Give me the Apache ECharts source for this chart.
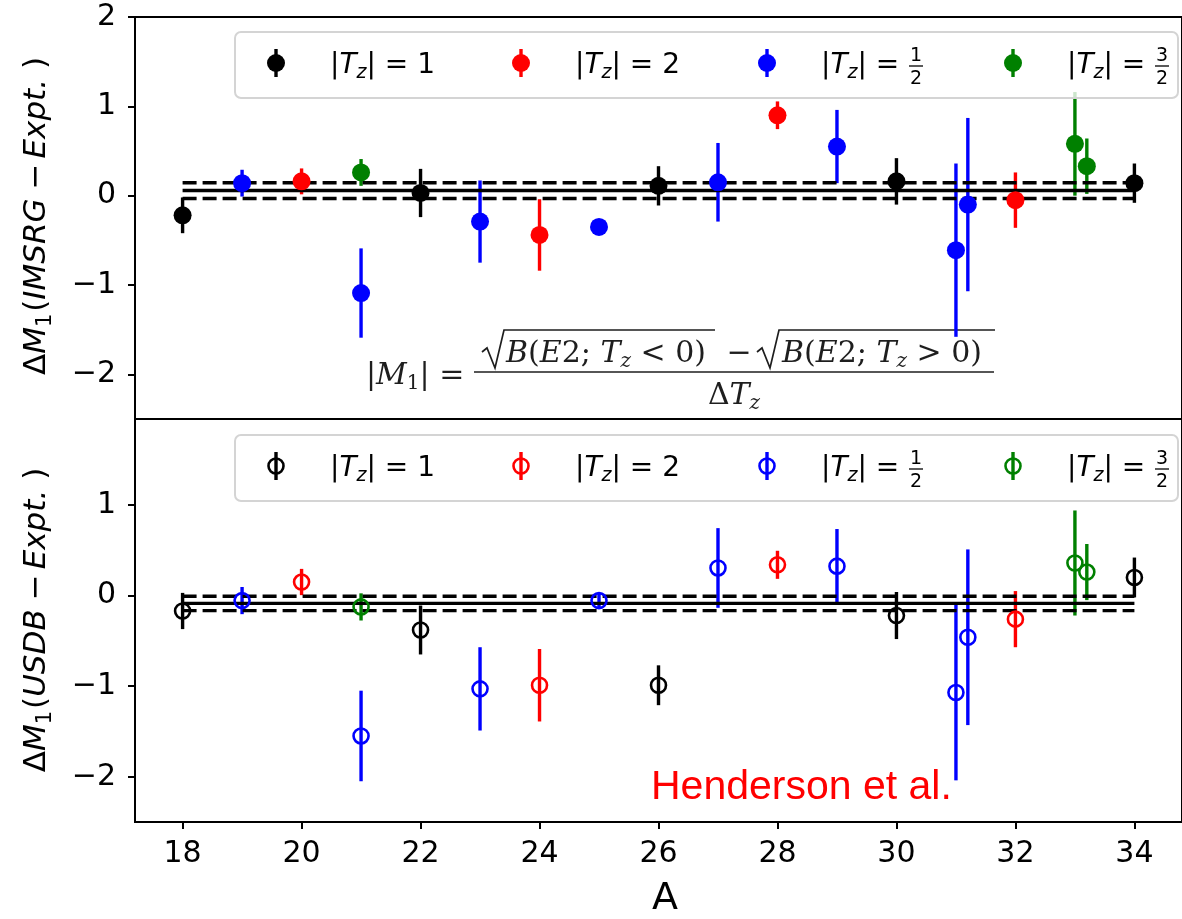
<!DOCTYPE html>
<html>
<head>
<meta charset="utf-8">
<title>ΔM1 residuals</title>
<script src="https://cdn.jsdelivr.net/npm/echarts@6.0.0/dist/echarts.min.js"></script>
<style>
html,body{margin:0;padding:0;background:#fff;}
#chart{width:1182px;height:919px;}
</style>
</head>
<body>
<div id="chart"></div>
<script>
// Mass numbers of the mirror pairs, grouped by |Tz|
const aTz1  = [18, 22, 26, 30, 34];
const aTz2  = [20, 24, 28, 32];
const aTzH  = [19, 21, 23, 25, 27, 29, 31, 31.2];
const aTz3H = [21, 33, 33.2];

// Experimental uncertainties (same for both panels)
const errTz1  = [0.20, 0.27, 0.22, 0.26, 0.22];
const errTz2  = [0.145, 0.40, 0.155, 0.31];
const errTzH  = [0.15, 0.50, 0.46, 0.08, 0.44, 0.41, 0.97, 0.97];
const errTz3H = [0.15, 0.58, 0.31];

// IMSRG − Expt.
const imsrgTz1  = [-0.22, 0.03, 0.11, 0.16, 0.14];
const imsrgTz2  = [0.16, -0.44, 0.90, -0.05];
const imsrgTzH  = [0.14, -1.09, -0.29, -0.35, 0.15, 0.55, -0.61, -0.10];
const imsrgTz3H = [0.26, 0.58, 0.33];

// USDB − Expt.
const usdbTz1  = [-0.17, -0.38, -0.99, -0.22, 0.20];
const usdbTz2  = [0.15, -0.99, 0.34, -0.26];
const usdbTzH  = [-0.055, -1.55, -1.03, -0.055, 0.305, 0.325, -1.07, -0.46];
const usdbTz3H = [-0.125, 0.36, 0.26];

// Mean offset and its uncertainty band
const imsrgMean = 0.057, imsrgBand = [-0.031, 0.145];
const usdbMean = -0.086, usdbBand = [-0.166, -0.007];
const meanRange = [18, 34];

const xTicks = [18, 20, 22, 24, 26, 28, 30, 32, 34];
const yTicksTop = [-2, -1, 0, 1, 2];
const yTicksBottom = [-2, -1, 0, 1];

const groupColors = ['#000000', '#ff0000', '#0000ff', '#008000'];
const legendValues = ['1', '2', '1/2', '3/2'];

const groupsA   = [aTz1, aTz2, aTzH, aTz3H];
const groupsErr = [errTz1, errTz2, errTzH, errTz3H];
const panels = [
  { vals: [imsrgTz1, imsrgTz2, imsrgTzH, imsrgTz3H], mean: imsrgMean, band: imsrgBand, hollow: false },
  { vals: [usdbTz1, usdbTz2, usdbTzH, usdbTz3H], mean: usdbMean, band: usdbBand, hollow: true }
];

const minus = v => (v < 0 ? '\u2212' + Math.abs(v) : String(v));

const series = [];
panels.forEach((p, pi) => {
  // mean line and band
  const lines = [[p.mean, 'solid'], [p.band[0], [14, 6]], [p.band[1], [14, 6]]];
  lines.forEach(([v, t]) => {
    series.push({
      type: 'line', xAxisIndex: pi, yAxisIndex: pi, z: 3,
      data: [[meanRange[0], v], [meanRange[1], v]],
      showSymbol: false, symbol: 'none', silent: true,
      lineStyle: { color: '#000', width: 3.4, type: t, cap: 'butt', opacity: 1 }
    });
  });
  groupsA.forEach((xs, gi) => {
    const data = xs.map((a, k) => [a, p.vals[gi][k], groupsErr[gi][k]]);
    const c = groupColors[gi];
    // error bars
    series.push({
      type: 'custom', xAxisIndex: pi, yAxisIndex: pi, z: 2, silent: true,
      data: data,
      encode: { x: 0, y: 1 },
      renderItem: (params, api) => {
        const x = api.value(0), y = api.value(1), e = api.value(2);
        const p1 = api.coord([x, y + e]);
        const p2 = api.coord([x, y - e]);
        return {
          type: 'line',
          shape: { x1: p1[0], y1: p1[1], x2: p2[0], y2: p2[1] },
          style: { stroke: c, lineWidth: 3.4 }
        };
      }
    });
    // markers
    series.push({
      type: 'scatter', xAxisIndex: pi, yAxisIndex: pi, z: 4, silent: true,
      data: data.map(d => [d[0], d[1]]),
      symbol: 'circle',
      symbolSize: p.hollow ? 15 : 18,
      itemStyle: p.hollow
        ? { color: 'rgba(0,0,0,0)', borderColor: c, borderWidth: 2.6, opacity: 1 }
        : { color: c, opacity: 1 }
    });
  });
});

// ---------- graphic overlays: legends, labels, formula ----------
const graphic = [];
const sansRich = {
  n: { fontFamily: 'DejaVu Sans', fontSize: 28, verticalAlign: 'middle' },
  i: { fontFamily: 'DejaVu Sans', fontStyle: 'italic', fontSize: 28, verticalAlign: 'middle' },
  s: { fontFamily: 'DejaVu Sans', fontStyle: 'italic', fontSize: 19, verticalAlign: 'top', padding: [15, 0, 0, 0] }
};
const labelRich = {
  n: { fontFamily: 'DejaVu Sans', fontSize: 31, verticalAlign: 'middle' },
  i: { fontFamily: 'DejaVu Sans', fontStyle: 'italic', fontSize: 31, verticalAlign: 'middle' },
  m: { fontFamily: 'DejaVu Sans', fontSize: 31, verticalAlign: 'middle', padding: [0, 5, 0, 9] },
  s1: { fontFamily: 'DejaVu Sans', fontSize: 21, verticalAlign: 'top', padding: [17, 2, 0, 0] }
};

function addLegend(boxY, cy, hollow) {
  graphic.push({
    type: 'rect', z: 100, silent: true,
    shape: { x: 235, y: boxY, width: 943, height: 66, r: 6 },
    style: { fill: 'rgba(255,255,255,0.8)', stroke: '#d4d4d4', lineWidth: 2 }
  });
  const mx = [276, 521, 767, 1013];
  legendValues.forEach((val, k) => {
    const c = groupColors[k];
    graphic.push({
      type: 'line', z: 101, silent: true,
      shape: { x1: mx[k], y1: cy - 14, x2: mx[k], y2: cy + 14 },
      style: { stroke: c, lineWidth: 3.4 }
    });
    graphic.push({
      type: 'circle', z: 102, silent: true,
      shape: { cx: mx[k], cy: cy, r: hollow ? 7.5 : 9 },
      style: hollow ? { fill: 'none', stroke: c, lineWidth: 2.6 } : { fill: c }
    });
    const tx = mx[k] + 54;
    const parts = val.split('/');
    const label = '{n||}{i|T}{s|z}{n|| = ' + (parts.length === 1 ? val : '') + '}';
    graphic.push({
      type: 'text', z: 101, silent: true,
      style: {
        x: tx, y: cy + 3, text: label, fill: '#000',
        align: 'left', verticalAlign: 'middle', rich: sansRich
      }
    });
    if (parts.length === 2) {
      const fx = tx + 95;
      graphic.push({
        type: 'text', z: 101, silent: true,
        style: { x: fx, y: cy - 7, text: parts[0], fill: '#000', align: 'center', verticalAlign: 'middle',
                 fontFamily: 'DejaVu Sans', fontSize: 19 }
      });
      graphic.push({
        type: 'line', z: 101, silent: true,
        shape: { x1: fx - 7, y1: cy + 3, x2: fx + 7, y2: cy + 3 },
        style: { stroke: '#000', lineWidth: 1.3 }
      });
      graphic.push({
        type: 'text', z: 101, silent: true,
        style: { x: fx, y: cy + 16, text: parts[1], fill: '#000', align: 'center', verticalAlign: 'middle',
                 fontFamily: 'DejaVu Sans', fontSize: 19 }
      });
    }
  });
}
addLegend(32, 63, false);
addLegend(435, 466, true);

// y-axis titles
function addYTitle(cy, model) {
  graphic.push({
    type: 'text', silent: true, rotation: Math.PI / 2, x: 37, y: cy,
    style: {
      x: 0, y: 0, fill: '#000', align: 'center', verticalAlign: 'middle',
      text: '{n|\u0394}{i|M}{s1|1}{n|(}{i|' + model + '}{m|\u2212}{i|Expt.}{n| )}',
      rich: labelRich
    }
  });
}
addYTitle(216, 'IMSRG');
addYTitle(620, 'USDB');

// x-axis title
graphic.push({
  type: 'text', silent: true,
  style: { x: 665, y: 899, text: 'A', fill: '#000', align: 'center', verticalAlign: 'middle',
           fontFamily: 'DejaVu Sans', fontSize: 38 }
});

// reference label
graphic.push({
  type: 'text', silent: true,
  style: { x: 651, y: 788, text: 'Henderson et al.', fill: '#ff0000', align: 'left', verticalAlign: 'middle',
           fontFamily: 'Liberation Sans', fontSize: 41 }
});

// |M1| definition
const serifRich = {
  n: { fontFamily: 'DejaVu Serif', fontSize: 30, verticalAlign: 'middle' },
  i: { fontFamily: 'DejaVu Serif', fontStyle: 'italic', fontSize: 30, verticalAlign: 'middle' },
  s: { fontFamily: 'DejaVu Serif', fontStyle: 'italic', fontSize: 20, verticalAlign: 'top', padding: [16, 0, 0, 0] },
  s1: { fontFamily: 'DejaVu Serif', fontSize: 20, verticalAlign: 'top', padding: [16, 0, 0, 0] }
};
const ink = '#1e1e1e';
graphic.push({
  type: 'text', silent: true,
  style: { x: 366, y: 376, text: '{n||}{i|M}{s1|1}{n|| = }', fill: ink, align: 'left', verticalAlign: 'middle', rich: serifRich }
});
graphic.push({
  type: 'line', silent: true,
  shape: { x1: 474, y1: 372, x2: 994, y2: 372 },
  style: { stroke: ink, lineWidth: 1.5 }
});
function radical(x0, x1) {
  graphic.push({
    type: 'polyline', silent: true,
    shape: { points: [[x0, 352], [x0 + 5, 348], [x0 + 13, 368], [x0 + 22, 330], [x1, 330]] },
    style: { stroke: ink, lineWidth: 1.7, fill: 'none', lineJoin: 'miter' }
  });
}
radical(482, 715);
radical(757, 995);
graphic.push({
  type: 'text', silent: true,
  style: { x: 506, y: 354, text: '{i|B}{n|(}{i|E}{n|2; }{i|T}{s|z}{n| < 0)}', fill: ink, align: 'left', verticalAlign: 'middle', rich: serifRich }
});
graphic.push({
  type: 'text', silent: true,
  style: { x: 739, y: 354, text: '\u2212', fill: ink, align: 'center', verticalAlign: 'middle', fontFamily: 'DejaVu Serif', fontSize: 30 }
});
graphic.push({
  type: 'text', silent: true,
  style: { x: 782, y: 354, text: '{i|B}{n|(}{i|E}{n|2; }{i|T}{s|z}{n| > 0)}', fill: ink, align: 'left', verticalAlign: 'middle', rich: serifRich }
});
graphic.push({
  type: 'text', silent: true,
  style: { x: 734, y: 396, text: '{n|\u0394}{i|T}{s|z}', fill: ink, align: 'center', verticalAlign: 'middle', rich: serifRich }
});

const axisCommon = {
  type: 'value',
  splitLine: { show: false },
  axisLine: { show: true, onZero: false, lineStyle: { color: '#000', width: 2 } }
};

const option = {
  animation: false,
  backgroundColor: '#ffffff',
  grid: [
    { left: 135, top: 17, width: 1059, height: 402, show: true, borderColor: '#000', borderWidth: 2, backgroundColor: 'transparent' },
    { left: 135, top: 419, width: 1059, height: 403, show: true, borderColor: '#000', borderWidth: 2, backgroundColor: 'transparent' }
  ],
  xAxis: [
    Object.assign({}, axisCommon, {
      gridIndex: 0, min: 17.2, max: 34.8,
      axisTick: { show: false }, axisLabel: { show: false }
    }),
    Object.assign({}, axisCommon, {
      gridIndex: 1, min: 17.2, max: 34.8,
      axisTick: { show: true, length: 7, lineStyle: { color: '#000', width: 2 }, customValues: xTicks },
      axisLabel: { customValues: xTicks, color: '#000', fontFamily: 'DejaVu Sans', fontSize: 30, margin: 17 }
    })
  ],
  yAxis: [
    Object.assign({}, axisCommon, {
      gridIndex: 0, min: -2.5, max: 2,
      axisTick: { show: true, length: 7, lineStyle: { color: '#000', width: 2 }, customValues: yTicksTop },
      axisLabel: { customValues: yTicksTop, formatter: minus, color: '#000', fontFamily: 'DejaVu Sans', fontSize: 30, margin: 19 }
    }),
    Object.assign({}, axisCommon, {
      gridIndex: 1, min: -2.5, max: 1.95,
      axisTick: { show: true, length: 7, lineStyle: { color: '#000', width: 2 }, customValues: yTicksBottom },
      axisLabel: { customValues: yTicksBottom, formatter: minus, color: '#000', fontFamily: 'DejaVu Sans', fontSize: 30, margin: 19 }
    })
  ],
  series: series,
  graphic: graphic
};

const chart = echarts.init(document.getElementById('chart'), null, { renderer: 'canvas' });
chart.setOption(option);
</script>
</body>
</html>
